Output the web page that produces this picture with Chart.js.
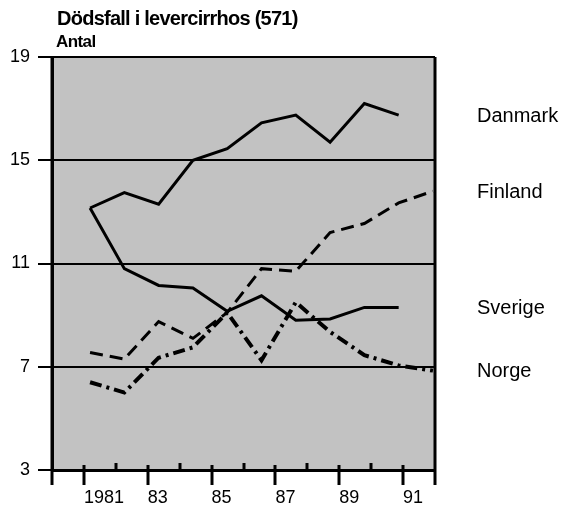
<!DOCTYPE html>
<html><head><meta charset="utf-8">
<script src="https://cdn.jsdelivr.net/npm/chart.js@4/dist/chart.umd.min.js"></script>
<style>html,body{margin:0;padding:0;background:#fff;}#wrap{width:563px;height:508px;}</style>
</head><body><div id="wrap"><canvas id="c" width="563" height="508"></canvas></div>
<script>
const years = [1981,1982,1983,1984,1985,1986,1987,1988,1989,1990,1991];
const danmark = [13.15,13.75,13.3,15.0,15.45,16.45,16.75,15.7,17.2,16.75,null];
const finland = [7.55,7.3,8.75,8.1,9.1,10.8,10.7,12.2,12.55,13.35,13.8];
const sverige = [13.15,10.8,10.15,10.05,9.15,9.75,8.8,8.85,9.3,9.3,null];
const norge   = [6.4,6.0,7.35,7.75,9.1,7.25,9.5,8.35,7.45,7.05,6.85];
const seriesNames = ['Danmark','Finland','Sverige','Norge'];
const yTicks = [3,7,11,15,19];
const xTickYears = [1980,1981,1982,1983,1984,1985,1986,1987,1988,1989,1990,1991,1992];
const xTickLabels = {1981:'1981',1983:'83',1985:'85',1987:'87',1989:'89',1991:'91'};
const title = 'Dödsfall i levercirrhos (571)';
const subtitle = 'Antal';

const FONT = "'Liberation Sans', Arial, sans-serif";
const toPts = arr => years.map((y,i)=>({x:y, y:arr[i]})).filter(p=>p.y!==null);

const decor = {
  id:'decor',
  beforeDraw(chart){
    const {ctx, chartArea:a} = chart;
    ctx.save();
    ctx.fillStyle = '#c2c2c2';
    ctx.fillRect(a.left, a.top, a.right-a.left, a.bottom-a.top);
    ctx.restore();
  },
  afterDraw(chart){
    const {ctx, chartArea:a, scales} = chart;
    const xs = scales.x, ys = scales.y;
    ctx.save();
    ctx.strokeStyle = '#000';
    xTickYears.forEach(yr=>{
      const px = Math.round(xs.getPixelForValue(yr));
      ctx.beginPath();
      ctx.lineWidth = 3;
      if (yr % 2 === 1 || yr === xs.min || yr === xs.max) {
        ctx.moveTo(px, (yr===xs.min||yr===xs.max) ? a.top : a.bottom-5);
        ctx.lineTo(px, a.bottom+15);
      } else {
        ctx.moveTo(px, a.bottom-7);
        ctx.lineTo(px, a.bottom);
      }
      ctx.stroke();
    });
    ctx.fillStyle = '#000';
    ctx.textBaseline = 'alphabetic';
    ctx.textAlign = 'left';
    ctx.font = 'bold 20px ' + FONT;
    ctx.letterSpacing = '-0.75px';
    ctx.fillText(title, a.left+5, 25);
    ctx.font = 'bold 17px ' + FONT;
    ctx.letterSpacing = '-0.6px';
    ctx.fillText(subtitle, a.left+4, 47);
    ctx.letterSpacing = '0px';
    ctx.font = '20px ' + FONT;
    ctx.textBaseline = 'middle';
    chart.data.datasets.forEach(ds=>{
      const last = ds.data[ds.data.length-1];
      ctx.fillText(ds.label, a.right+42, ys.getPixelForValue(last.y)+1);
    });
    ctx.restore();
  }
};

const common = {borderColor:'#000', pointRadius:0, tension:0, fill:false, xAxisID:'xd', yAxisID:'y'};
new Chart(document.getElementById('c'), {
  type:'line',
  data:{datasets:[
    Object.assign({label:seriesNames[0], data:toPts(danmark), borderWidth:3}, common),
    Object.assign({label:seriesNames[1], data:toPts(finland), borderWidth:3, borderDash:[13,7]}, common),
    Object.assign({label:seriesNames[2], data:toPts(sverige), borderWidth:3}, common),
    Object.assign({label:seriesNames[3], data:toPts(norge), borderWidth:4, borderDash:[12,5,3,5]}, common)
  ]},
  options:{
    responsive:false, animation:false, devicePixelRatio:1,
    layout:{padding:{left:0, top:57, right:128, bottom:0}},
    plugins:{legend:{display:false}, tooltip:{enabled:false}, title:{display:false}},
    scales:{
      x:{type:'linear', position:'bottom', min:1980, max:1992,
        afterBuildTicks: s => { s.ticks = xTickYears.map(v=>({value:v})); },
        afterFit: s => { s.height = 38; },
        grid:{display:false, drawTicks:false},
        border:{display:true, color:'#000', width:3},
        ticks:{autoSkip:false, maxRotation:0, minRotation:0, align:'start', padding:17, color:'#000',
          font:{size:18, family:FONT}, callback: v => xTickLabels[v] || ''}
      },
      xd:{type:'linear', display:false, min:1979.89, max:1991.06},
      y:{min:3, max:19,
        afterBuildTicks: s => { s.ticks = yTicks.map(v=>({value:v})); },
        afterFit: s => { s.width = 52; },
        grid:{color:'#000', lineWidth:2, tickLength:14, drawTicks:true},
        border:{color:'#000', width:3},
        ticks:{color:'#000', padding:8, font:{size:18, family:FONT}}
      }
    }
  },
  plugins:[decor]
});
</script></body></html>
